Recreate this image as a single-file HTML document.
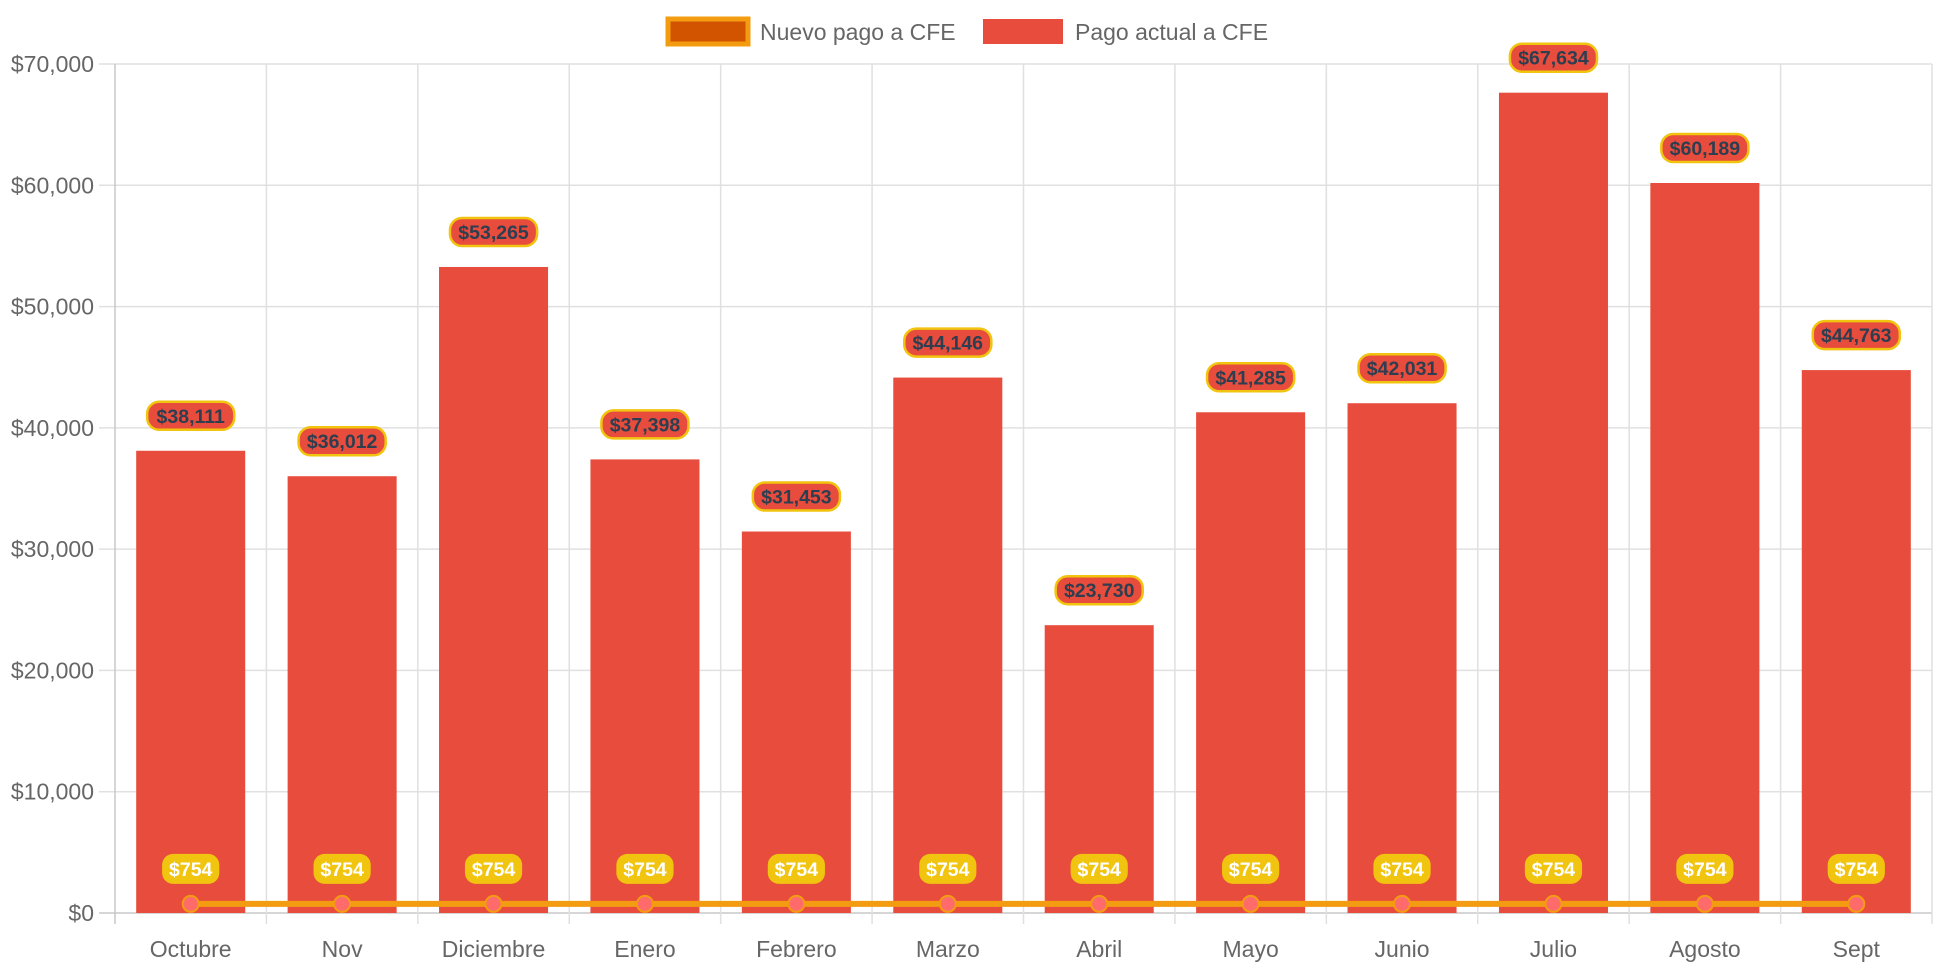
<!DOCTYPE html>
<html><head><meta charset="utf-8"><style>
html,body{margin:0;padding:0;background:#fff;}
svg{display:block;font-family:"Liberation Sans",Arial,sans-serif;}
</style></head><body>
<svg id="chart" width="1942" height="970" viewBox="0 0 1942 970">
<g id="legend">
  <g>
    <rect x="668" y="19" width="80" height="25" fill="#d35400" stroke="#f39c12" stroke-width="5"/>
    <text x="760" y="40" font-size="23" fill="#666">Nuevo pago a CFE</text>
  </g>
  <g>
    <rect x="983" y="19" width="80" height="25" fill="#e74c3c"/>
    <text x="1075" y="40" font-size="23" fill="#666">Pago actual a CFE</text>
  </g>
</g>
<g id="grid"></g>
<g id="bars"></g>
<g id="line"></g>
<g id="labels"></g>
</svg>
<script>
const categories = ["Octubre","Nov","Diciembre","Enero","Febrero","Marzo","Abril","Mayo","Junio","Julio","Agosto","Sept"];
const actualValues = [38111,36012,53265,37398,31453,44146,23730,41285,42031,67634,60189,44763];
const newValues = [754,754,754,754,754,754,754,754,754,754,754,754];
const yTicks = [0,10000,20000,30000,40000,50000,60000,70000];

const NS="http://www.w3.org/2000/svg";
const L=115,R=1932,T=64,B=913,yMax=70000;
const cw=(R-L)/categories.length;
const xC=i=>L+cw*(i+0.5);
const yS=v=>B-(v/yMax)*(B-T);
const fmt=v=>"$"+v.toLocaleString("en-US");
function mk(tag,attrs,parent){const e=document.createElementNS(NS,tag);for(const k in attrs)e.setAttribute(k,attrs[k]);parent.appendChild(e);return e;}
const grid=document.getElementById("grid"),bars=document.getElementById("bars"),line=document.getElementById("line"),labels=document.getElementById("labels");

yTicks.forEach(t=>{
  const y=yS(t);
  const g=mk("line",{x1:99,x2:R,y1:y,y2:y,stroke:t===0?"#c8c8c8":"#e0e0e0","stroke-width":1.5},grid);
  
  
  const tx=mk("text",{x:94,y:y+8,"font-size":23,fill:"#666","text-anchor":"end"},grid);
  tx.textContent=fmt(t);
  
  
});
for(let i=0;i<=categories.length;i++){
  const x=L+cw*i;
  const g=mk("line",{x1:x,x2:x,y1:T,y2:924,stroke:i===0?"#c8c8c8":"#e0e0e0","stroke-width":1.5},grid);
  
  
}
categories.forEach((c,i)=>{
  const tx=mk("text",{x:xC(i),y:957,"font-size":23,fill:"#666","text-anchor":"middle"},grid);
  tx.textContent=c;
  
  
});
const bw=cw*0.72;
actualValues.forEach((v,i)=>{
  const r=mk("rect",{x:xC(i)-bw/2,y:yS(v),width:bw,height:B-yS(v),fill:"#e74c3c"},bars);
  
  
  const cy=yS(v)-35;
  const txt=fmt(v);const w=txt.length*11.3+8;
  const p=mk("rect",{x:xC(i)-w/2,y:cy-14,width:w,height:28,rx:12,fill:"#e74c3c",stroke:"#f1c40f","stroke-width":2.5},labels);
  
  
  const t=mk("text",{x:xC(i),y:cy+7,"font-size":19.5,"font-weight":"bold",fill:"#2c3e50","text-anchor":"middle"},labels);
  t.textContent=txt;
  
  
});
const pts=newValues.map((v,i)=>xC(i)+","+yS(v)).join(" ");
const pl=mk("polyline",{points:pts,fill:"none",stroke:"#f39c12","stroke-width":6},line);


newValues.forEach((v,i)=>{
  const c=mk("circle",{cx:xC(i),cy:yS(v),r:8,fill:"#ff6b6b",stroke:"#f39c12","stroke-width":2},line);
  
  
  const cy=yS(v)-35;
  const txt=fmt(v);const w=txt.length*11.3+12;
  const p=mk("rect",{x:xC(i)-w/2,y:cy-15,width:w,height:30,rx:11,fill:"#f1c40f"},labels);
  
  
  const t=mk("text",{x:xC(i),y:cy+7,"font-size":19.5,"font-weight":"bold",fill:"#fff","text-anchor":"middle"},labels);
  t.textContent=txt;
  
  
});
</script>
</body></html>
